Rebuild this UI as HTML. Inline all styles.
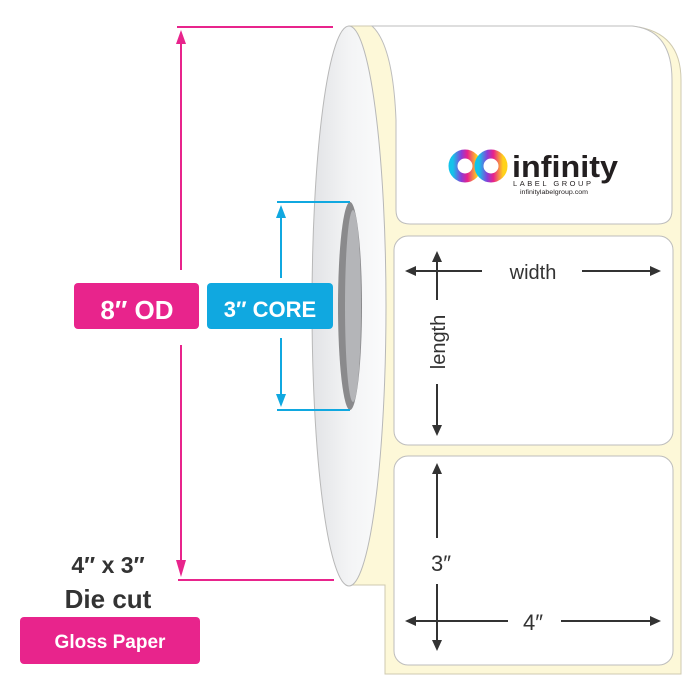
<!DOCTYPE html>
<html><head><meta charset="utf-8"><style>
html,body{margin:0;padding:0;background:#fff;width:700px;height:700px;overflow:hidden}
svg{display:block}
text{font-family:"Liberation Sans","DejaVu Sans",sans-serif}
</style></head><body>
<svg width="700" height="700" viewBox="0 0 700 700" xmlns="http://www.w3.org/2000/svg">
<defs>
<linearGradient id="disc" x1="0" x2="1" y1="0" y2="0">
<stop offset="0" stop-color="#e2e3e6"/><stop offset="0.5" stop-color="#f3f4f5"/><stop offset="1" stop-color="#fbfbfc"/></linearGradient>
<linearGradient id="logo" x1="0" x2="1">
<stop offset="0" stop-color="#14c3ea"/><stop offset="0.35" stop-color="#8a3cd8"/><stop offset="0.6" stop-color="#e8208c"/><stop offset="1" stop-color="#ffd21a"/></linearGradient>
</defs>
<!-- cream backing -->
<path d="M349 26 L630 26 Q681 30 681 80 L681 674 L385 674 L385 585 L349 585 Z" fill="#fdf8d8" stroke="#cfcab0" stroke-width="1"/>
<!-- roll disc -->
<ellipse cx="349" cy="306" rx="37" ry="280" fill="url(#disc)" stroke="#b8b8b8" stroke-width="1"/>
<!-- core -->
<ellipse cx="350" cy="306" rx="12" ry="104" fill="#8a8a8c"/>
<ellipse cx="353" cy="306" rx="8" ry="96" fill="#b4b5b8"/>
<!-- labels -->
<path d="M372 26 L632 26 Q672 30 672 80 L672 210 Q672 224 658 224 L410 224 Q396 224 396 210 L396 120 Q393 45 372 26 Z" fill="#fff" stroke="#bdbdbd" stroke-width="1"/>
<rect x="394" y="236" width="279" height="209" rx="14" fill="#fff" stroke="#bdbdbd"/>
<rect x="394" y="456" width="279" height="209" rx="14" fill="#fff" stroke="#bdbdbd"/>
<!-- logo -->
<circle cx="465" cy="166" r="12" fill="none" stroke="url(#logo)" stroke-width="9"/>
<circle cx="491" cy="166" r="12" fill="none" stroke="url(#logo)" stroke-width="9"/>
<text x="512" y="177" font-size="31" font-weight="bold" fill="#231f20" textLength="106" lengthAdjust="spacingAndGlyphs">infinity</text>
<text x="513" y="186" font-size="7.5" fill="#231f20" textLength="78" lengthAdjust="spacing">LABEL GROUP</text>
<text x="520" y="194" font-size="6.5" fill="#231f20" textLength="68" lengthAdjust="spacingAndGlyphs">infinitylabelgroup.com</text>
<!-- pink OD lines -->
<g stroke="#e8248c" stroke-width="2" fill="#e8248c">
<line x1="177" y1="27" x2="333" y2="27"/>
<line x1="178" y1="580" x2="334" y2="580"/>
<line x1="181" y1="40" x2="181" y2="270"/>
<line x1="181" y1="345" x2="181" y2="566"/>
<path d="M176 44 L181 30 L186 44 Z" stroke="none"/>
<path d="M176 560 L181 577 L186 560 Z" stroke="none"/>
</g>
<!-- blue core lines -->
<g stroke="#10a8e0" stroke-width="2" fill="#10a8e0">
<line x1="277" y1="202" x2="350" y2="202"/>
<line x1="277" y1="410" x2="350" y2="410"/>
<line x1="281" y1="215" x2="281" y2="278"/>
<line x1="281" y1="338" x2="281" y2="398"/>
<path d="M276 218 L281 205 L286 218 Z" stroke="none"/>
<path d="M276 394 L281 407 L286 394 Z" stroke="none"/>
</g>
<rect x="74" y="283" width="125" height="46" rx="4" fill="#e8248c"/>
<text x="137" y="319" font-size="26" font-weight="bold" fill="#fff" text-anchor="middle">8″ OD</text>
<rect x="207" y="283" width="126" height="46" rx="4" fill="#10a8e0"/>
<text x="270" y="317" font-size="22" font-weight="bold" fill="#fff" text-anchor="middle">3″ CORE</text>
<!-- bottom left -->
<text x="108" y="573" font-size="23" font-weight="bold" fill="#333" text-anchor="middle">4″ x 3″</text>
<text x="108" y="608" font-size="26" font-weight="bold" fill="#333" text-anchor="middle">Die cut</text>
<rect x="20" y="617" width="180" height="47" rx="4" fill="#e8248c"/>
<text x="110" y="648" font-size="19" font-weight="bold" fill="#fff" text-anchor="middle">Gloss Paper</text>
<!-- dimension arrows -->
<g stroke="#333" stroke-width="2" fill="#333">
<line x1="410" y1="271" x2="482" y2="271"/>
<line x1="582" y1="271" x2="655" y2="271"/>
<path d="M405 271 L416 266 L416 276 Z" stroke="none"/>
<path d="M661 271 L650 266 L650 276 Z" stroke="none"/>
<line x1="437" y1="258" x2="437" y2="300"/>
<line x1="437" y1="384" x2="437" y2="428"/>
<path d="M437 251 L432 262 L442 262 Z" stroke="none"/>
<path d="M437 436 L432 425 L442 425 Z" stroke="none"/>
<line x1="437" y1="470" x2="437" y2="538"/>
<line x1="437" y1="584" x2="437" y2="645"/>
<path d="M437 463 L432 474 L442 474 Z" stroke="none"/>
<path d="M437 651 L432 640 L442 640 Z" stroke="none"/>
<line x1="410" y1="621" x2="508" y2="621"/>
<line x1="561" y1="621" x2="655" y2="621"/>
<path d="M405 621 L416 616 L416 626 Z" stroke="none"/>
<path d="M661 621 L650 616 L650 626 Z" stroke="none"/>
</g>
<text x="533" y="279" font-size="20" fill="#333" text-anchor="middle">width</text>
<text transform="translate(445,342) rotate(-90)" font-size="20" fill="#333" text-anchor="middle">length</text>
<text x="441" y="571" font-size="22" fill="#333" text-anchor="middle">3″</text>
<text x="533" y="630" font-size="22" fill="#333" text-anchor="middle">4″</text>
</svg>
</body></html>
